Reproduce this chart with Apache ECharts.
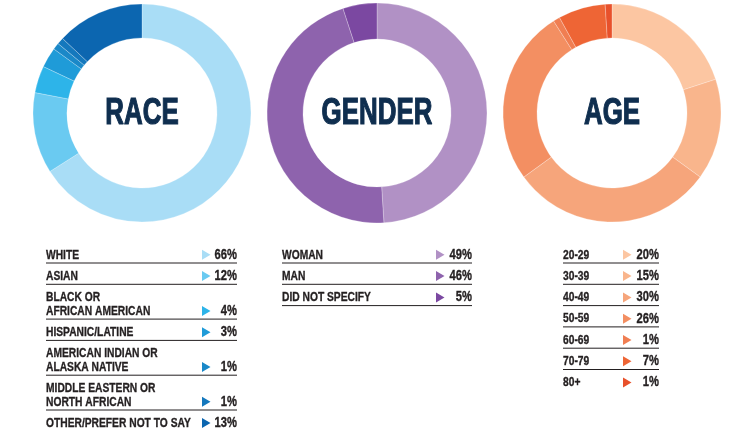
<!DOCTYPE html>
<html><head><meta charset="utf-8">
<script src="https://cdn.jsdelivr.net/npm/echarts@6/dist/echarts.min.js"></script>
<style>html,body{margin:0;padding:0;background:#fff}#c{width:730px;height:436px}</style>
</head><body><div id="c"></div>
<script>
// ---- data ----
const raceLabels = ["WHITE","ASIAN","BLACK OR\nAFRICAN AMERICAN","HISPANIC/LATINE","AMERICAN INDIAN OR\nALASKA NATIVE","MIDDLE EASTERN OR\nNORTH AFRICAN","OTHER/PREFER NOT TO SAY"];
const raceValues = [66,12,4,3,1,1,13];
const raceColors = ["#a9ddf6","#6acaf1","#2db4e9","#1f9bd8","#1a88c8","#1478bd","#0c66b0"];

const genderLabels = ["WOMAN","MAN","DID NOT SPECIFY"];
const genderValues = [49,46,5];
const genderColors = ["#b191c5","#8e63ad","#7b48a1"];

const ageLabels = ["20-29","30-39","40-49","50-59","60-69","70-79","80+"];
const ageValues = [20,15,30,26,1,7,1];
const ageColors = ["#fcc6a2","#f9b58c","#f6a57b","#f38f62","#f07e52","#ee6535","#e8512b"];

const titles = ["RACE","GENDER","AGE"];

// ---- layout ----
const FONT = "'Liberation Sans',Arial,sans-serif";
const groups = [
  {labels:raceLabels, values:raceValues, colors:raceColors, cx:142, cy:113, ri:75, ro:109, x0:46, x1:237, tri:202, lastLine:false},
  {labels:genderLabels, values:genderValues, colors:genderColors, cx:377, cy:113, ri:74, ro:110, x0:282, x1:472, tri:436, lastLine:true},
  {labels:ageLabels, values:ageValues, colors:ageColors, cx:612, cy:113, ri:75, ro:109, x0:563, x1:659, tri:623, lastLine:false}
];

const series = groups.map((g,gi)=>({
  type:'pie', silent:true, animation:false,
  center:[g.cx,g.cy], radius:[g.ri,g.ro], startAngle:90, clockwise:true,
  label:{show:false}, labelLine:{show:false},
  itemStyle:{borderColor:'rgba(255,255,255,0.5)', borderWidth:0.5},
  data:g.values.map((v,i)=>({name:g.labels[i], value:v, itemStyle:{color:g.colors[i]}}))
}));

const graphics = [];
const SX = 0.76;
const INK = '#231f20';
const top0 = 250, lineH = 13.5, rowPad = 8.3;
groups.forEach((g,gi)=>{
  // centre title
  graphics.push({type:'text', x:g.cx, y:g.cy+1, scaleX:0.70,
    style:{text:titles[gi], font:'bold 37px '+FONT, fill:'#0f2e4f', stroke:'#0f2e4f', lineWidth:1.2, align:'center', verticalAlign:'middle'}});
  let y = top0;
  g.labels.forEach((lab,i)=>{
    const lines = lab.split('\n');
    const n = lines.length;
    lines.forEach((ln,k)=>{
      graphics.push({type:'text', x:g.x0, y:y+k*lineH+4.8, scaleX:SX,
        style:{text:ln, font:'bold 13.5px '+FONT, fill:INK, stroke:INK, lineWidth:0.35, align:'left', verticalAlign:'middle'}});
    });
    const lastMid = y + (n-1)*lineH + 4.8;
    graphics.push({type:'text', x:g.x1, y:lastMid, scaleX:0.8,
      style:{text:g.values[i]+'%', font:'bold 14px '+FONT, fill:INK, stroke:INK, lineWidth:0.35, align:'right', verticalAlign:'middle'}});
    graphics.push({type:'polygon', shape:{points:[[g.tri,lastMid-5],[g.tri+8.5,lastMid],[g.tri,lastMid+5]]}, style:{fill:g.colors[i]}});
    const ly = y + n*lineH - 0.5;
    if (i < g.labels.length-1 || g.lastLine)
      graphics.push({type:'line', shape:{x1:g.x0, y1:ly, x2:g.x1, y2:ly}, style:{stroke:INK, lineWidth:1}});
    y = ly + rowPad;
  });
});

const chart = echarts.init(document.getElementById('c'), null, {renderer:'canvas'});
chart.setOption({animation:false, series:series, graphic:graphics});
</script></body></html>
